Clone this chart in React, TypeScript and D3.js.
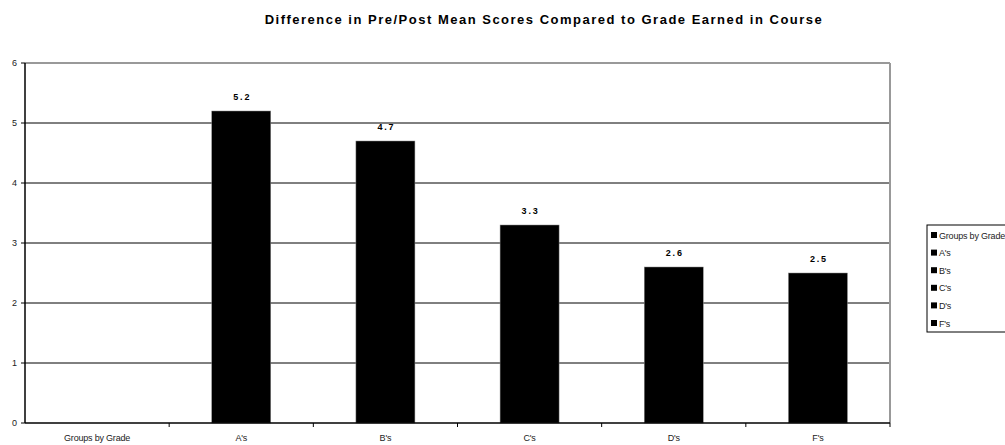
import React from "react";
import * as d3 from "d3";

const categories = ["Groups by Grade", "A's", "B's", "C's", "D's", "F's"];
const values: (number | null)[] = [null, 5.2, 4.7, 3.3, 2.6, 2.5];
const yTicks = [0, 1, 2, 3, 4, 5, 6];
const legendItems = ["Groups by Grade", "A's", "B's", "C's", "D's", "F's"];
const title = "Difference in Pre/Post Mean Scores Compared to Grade Earned in Course";

export default function App() {
  const W = 1005, H = 445;
  const left = 25, right = 890, top = 63, bottom = 423;
  const x = d3.scaleBand<string>().domain(categories).range([left, right]).padding(0);
  const y = d3.scaleLinear().domain([0, 6]).range([bottom, top]);
  const bw = 59;
  const font = "Liberation Sans, Arial, sans-serif";
  return (
    <svg width={W} height={H} style={{ position: "absolute", left: 0, top: 0 }} fontFamily={font}>
      <rect x={0} y={0} width={W} height={H} fill="#fff" />
      <text x={544} y={24} textAnchor="middle" fontSize={13} fontWeight="bold" letterSpacing={1.5}>{title}</text>
      {yTicks.filter(t => t > 0 && t < 6).map(t => (
        <line key={t} x1={left} x2={right} y1={y(t)} y2={y(t)} stroke="#000" strokeWidth={1} />
      ))}
      <line x1={left} x2={right} y1={y(6)} y2={y(6)} stroke="#999" strokeWidth={2} />
      <line x1={right} x2={right} y1={top} y2={bottom} stroke="#999" strokeWidth={2} />
      {categories.map((c, i) => {
        const v = values[i];
        if (v == null) return null;
        const cx = (x(c) as number) + x.bandwidth() / 2;
        return (
          <g key={c}>
            <rect x={cx - bw / 2} y={y(v)} width={bw} height={bottom - y(v)} fill="#000" stroke="#888" strokeWidth={0.5} />
            <text x={cx + 1} y={y(v) - 11} textAnchor="middle" fontSize={9} fontWeight="bold" letterSpacing={1.8}>{v.toFixed(1)}</text>
          </g>
        );
      })}
      <line x1={left} x2={left} y1={top} y2={bottom} stroke="#000" strokeWidth={1.5} />
      <line x1={left} x2={right} y1={bottom} y2={bottom} stroke="#000" strokeWidth={1.5} />
      {yTicks.map(t => (
        <g key={t}>
          <line x1={left - 4} x2={left} y1={y(t)} y2={y(t)} stroke="#000" />
          <text x={left - 8} y={y(t) + 3} textAnchor="end" fontSize={9} fill="#222">{t}</text>
        </g>
      ))}
      {categories.map((c, i) => (
        <line key={"t" + i} x1={(x(c) as number) + x.bandwidth()} x2={(x(c) as number) + x.bandwidth()} y1={bottom} y2={bottom + 4} stroke="#000" />
      ))}
      {categories.map(c => (
        <text key={"l" + c} x={(x(c) as number) + x.bandwidth() / 2} y={441} textAnchor="middle" fontSize={9} letterSpacing={-0.2} fill="#222">{c}</text>
      ))}
      <rect x={927} y={225} width={90} height={107} fill="#fff" stroke="#000" strokeWidth={1} />
      {legendItems.map((l, i) => (
        <g key={"lg" + l}>
          <rect x={931} y={232 + i * 17.6} width={6} height={6} fill="#000" />
          <text x={939} y={238.5 + i * 17.6} fontSize={9} letterSpacing={-0.2} fill="#222">{l}</text>
        </g>
      ))}
    </svg>
  );
}
